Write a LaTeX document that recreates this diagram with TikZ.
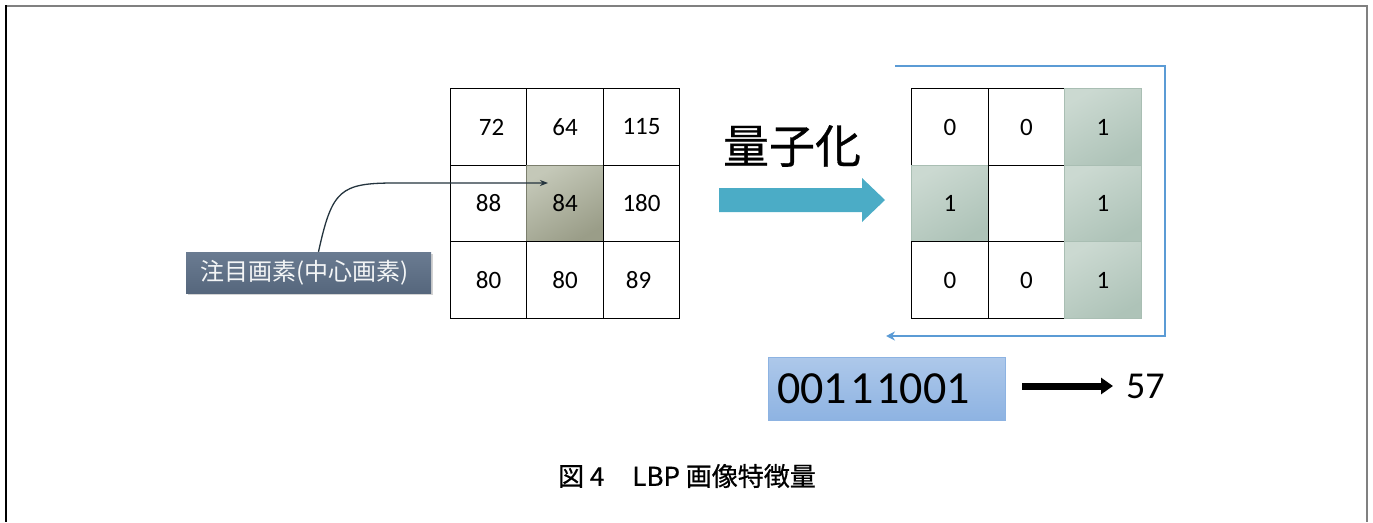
\documentclass[tikz,border=0pt]{standalone}
\usepackage{fontspec}
\setmainfont{Carlito}
\newfontfamily\cjk{Noto Sans CJK JP}
\newfontfamily\cjkb{Noto Sans CJK JP}[FakeBold=0.6]
\usetikzlibrary{arrows.meta,shadows,calc}
\definecolor{frameg}{HTML}{808080}
\definecolor{cellolive1}{HTML}{C4C8B8}
\definecolor{cellolive2}{HTML}{9A9D88}
\definecolor{cellgreen1}{HTML}{CBD9D1}
\definecolor{cellgreen2}{HTML}{AEC3B8}
\definecolor{greenedge}{HTML}{A9BEB3}
\definecolor{teal}{HTML}{4BACC6}
\definecolor{fbblue}{HTML}{5B9BD5}
\definecolor{slate1}{HTML}{6A7B91}
\definecolor{slate2}{HTML}{56677D}
\definecolor{bin1}{HTML}{ADC8EA}
\definecolor{bin2}{HTML}{8EB3E2}
\definecolor{binedge}{HTML}{8DB3E2}
\definecolor{curvec}{HTML}{24343E}
\tikzset{
  cell/.style={draw=black, line width=1.2pt, fill=white, minimum width=76.5pt, minimum height=76.5pt,
    inner sep=0pt, outer sep=0pt, font=\fontsize{25}{29}\selectfont},
  oliveCell/.style={cell, draw=cellolive2!80!black, line width=0.6pt, top color=cellolive1, bottom color=cellolive2, shading angle=30},
  greenCell/.style={cell, draw=greenedge, line width=0.8pt, top color=cellgreen1, bottom color=cellgreen2, shading angle=30},
}
\begin{document}
\begin{tikzpicture}[x=1pt,y=-1pt]
\useasboundingbox (0,0) rectangle (1373,522);
% frame
\draw[frameg, line width=2pt] (6,6) -- (1367,6) -- (1367,522);
\draw[black, line width=2pt] (6,5) -- (6,522);

% left grid
\node[cell] (a11) at (488.5,127) {\hspace*{6pt}72};
\node[cell] (a12) at (565,127) {64};
\node[cell] (a13) at (641.5,127) {115};
\node[cell] (a21) at (488.5,203.5) {88};
\node[oliveCell] (a22) at (565,203.5) {84};
\node[cell] (a23) at (641.5,203.5) {180};
\node[cell] (a31) at (488.5,280) {80};
\node[cell] (a32) at (565,280) {80};
\node[cell] (a33) at (641.5,280) {89\hspace*{6pt}};

% label
\node[draw=none, top color=slate1, bottom color=slate2, minimum width=245pt, minimum height=41pt,
  inner sep=0pt, text=white!92!slate1, font=\cjk\fontsize{24}{28}\selectfont,
  drop shadow={opacity=0.35, shadow xshift=2pt, shadow yshift=-2pt}] (lbl) at (308.5,272.5) {\hspace*{-8pt}注目画素(中心画素)};
\coordinate (tip) at (548,183);
\draw[curvec, line width=1.3pt, -{Stealth[length=8pt,width=6pt]}]
  ($(lbl.north)+(10,0)$) .. controls (332,190) and (340,183) .. (395,183) -- (tip);

% quantize
\node[font=\cjkb\fontsize{46}{50}\selectfont, anchor=center] (qtxt) at (792,146) {量子化};
\fill[teal] (719,188) -- (862,188) -- (862,178) -- (885,200) -- (862,222) -- (862,212) -- (719,212) -- cycle;

% right grid
\node[cell] (b11) at (950,127) {0};
\node[cell] (b12) at (1026.5,127) {0};
\node[greenCell] (b13) at (1103,127) {1};
\node[greenCell] (b21) at (950,203.5) {1};
\node[cell] (b22) at (1026.5,203.5) {};
\node[greenCell] (b23) at (1103,203.5) {1};
\node[cell] (b31) at (950,280) {0};
\node[cell] (b32) at (1026.5,280) {0};
\node[greenCell] (b33) at (1103,280) {1};

% feedback blue path
\coordinate (fbs) at (895,66);
\coordinate (fbc1) at (1165,66);
\coordinate (fbc2) at (1165,336);
\coordinate (fbe) at (886,336);
\draw[fbblue, line width=2.8pt, line join=miter, -{Stealth[length=9pt,width=9pt]}] (fbs) -- (fbc1) -- (fbc2) -- (fbe);

% binary
\node[draw=binedge, line width=0.8pt, top color=bin1, bottom color=bin2, minimum width=237pt, minimum height=63pt,
  inner sep=0pt] (bin) at (886.5,388.5) {};
\node[font=\fontsize{46}{50}\selectfont, anchor=west, inner sep=0pt] (bintxt) at (777,388.5) {001\hspace{3pt}1\hspace{3pt}1001};
\node[font=\fontsize{38}{42}\selectfont, anchor=west, inner sep=0pt] (res) at (1126,386) {57};
\draw[black, line width=7pt, shorten >=13pt, -{Triangle[length=12pt,width=16pt]}] (1022,386) -- (res.west);

% caption
\node[font=\cjkb\fontsize{26}{30}\selectfont] (cap) at (687,476) {図 4\hspace{28pt}LBP 画像特徴量};
\end{tikzpicture}
\end{document}
